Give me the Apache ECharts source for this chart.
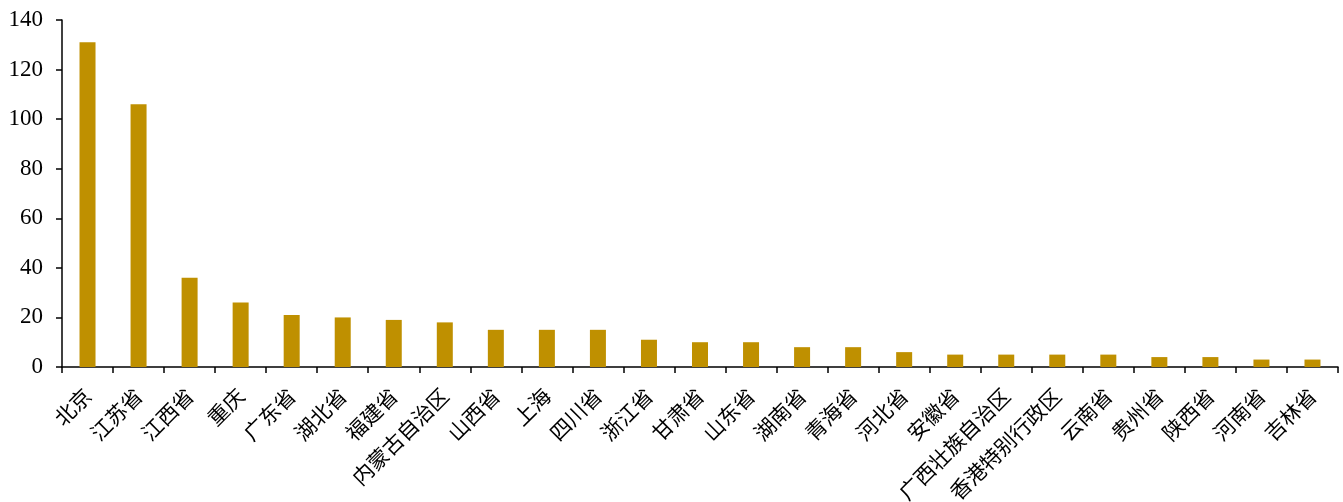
<!DOCTYPE html>
<html>
<head>
<meta charset="utf-8">
<script src="https://cdn.jsdelivr.net/npm/echarts@6/dist/echarts.min.js"></script>
<style>
  html, body { margin: 0; padding: 0; background: #fff; }
  #chart { width: 1343px; height: 502px; }
</style>
</head>
<body>
<div id="chart"></div>
<script>
// Regions, in descending order of count
const categories = ['北京', '江苏省', '江西省', '重庆', '广东省', '湖北省', '福建省', '内蒙古自治区',
  '山西省', '上海', '四川省', '浙江省', '甘肃省', '山东省', '湖南省', '青海省', '河北省', '安徽省',
  '广西壮族自治区', '香港特别行政区', '云南省', '贵州省', '陕西省', '河南省', '吉林省'];
const counts = [131, 106, 36, 26, 21, 20, 19, 18, 15, 15, 15, 11, 10, 10, 8, 8, 6, 5, 5, 5, 5, 4, 4, 3, 3];
const yTicks = [0, 20, 40, 60, 80, 100, 120, 140];

const chart = echarts.init(document.getElementById('chart'));
chart.setOption({
  animation: false,
  grid: { left: 62, right: 5, top: 20, bottom: 135, containLabel: false, outerBoundsMode: 'none' },
  xAxis: {
    type: 'category',
    data: categories,
    axisLine: { lineStyle: { color: '#000', width: 1.5 } },
    axisTick: { show: true, length: 6, lineStyle: { color: '#000', width: 1.5 } },
    axisLabel: {
      interval: 0,
      rotate: 45,
      margin: 25,
      color: '#000',
      fontSize: 21,
      fontFamily: '"Noto Sans CJK SC", sans-serif'
    }
  },
  yAxis: {
    type: 'value',
    min: yTicks[0],
    max: yTicks[yTicks.length - 1],
    interval: 20,
    axisLine: { show: true, lineStyle: { color: '#000', width: 1.5 } },
    axisTick: { show: true, length: 6, lineStyle: { color: '#000', width: 1.5 } },
    splitLine: { show: false },
    axisLabel: {
      color: '#000',
      fontSize: 23,
      margin: 19,
      fontFamily: '"Liberation Serif", "Times New Roman", serif'
    }
  },
  series: [{
    type: 'bar',
    data: counts,
    barWidth: 16,
    itemStyle: { color: '#BF9000' }
  }]
});
</script>
</body>
</html>
